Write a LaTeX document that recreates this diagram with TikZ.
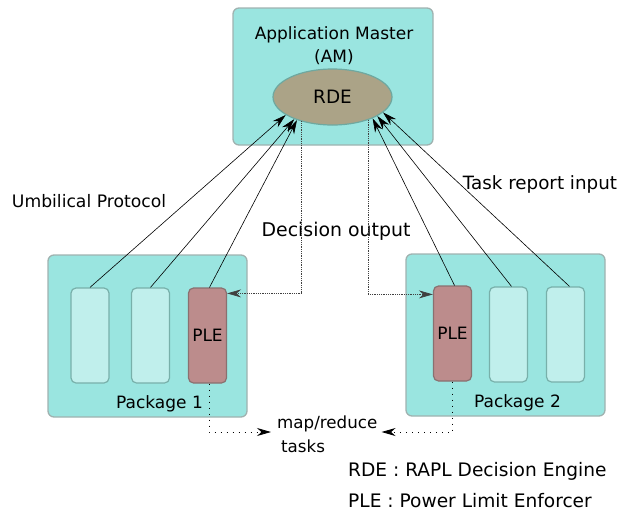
\documentclass[tikz,border=0pt]{standalone}
\usepackage{fontspec}
\setmainfont{DejaVu Sans}
\usetikzlibrary{shapes.geometric,arrows.meta}

\definecolor{pkgfill}{RGB}{154,229,224}
\definecolor{pkgline}{RGB}{160,178,176}
\definecolor{taskfill}{RGB}{192,239,236}
\definecolor{taskline}{RGB}{120,176,170}
\definecolor{plefill}{RGB}{188,140,140}
\definecolor{pleline}{RGB}{138,112,112}
\definecolor{rdefill}{RGB}{171,163,135}
\definecolor{rdeline}{RGB}{110,168,160}

\tikzset{
  pkg/.style={draw=pkgline, fill=pkgfill, line width=1.3pt, rounded corners=6pt, inner sep=0pt},
  slot/.style={draw=taskline, fill=taskfill, line width=1.2pt, rounded corners=5pt,
               minimum width=38pt, minimum height=95pt, inner sep=0pt},
  ple/.style={slot, draw=pleline, fill=plefill, font=\fontsize{17}{20}\selectfont},
  lbl/.style={font=\fontsize{17}{20}\selectfont, inner sep=0pt},
  tip/.style={-{Stealth[length=14pt,width=8pt,inset=4.5pt]}},
  report/.style={tip, line width=0.6pt},
  decision/.style={tip, line width=0.7pt, draw=black!75, dash pattern=on 1pt off 0.8pt},
  handoff/.style={tip, line width=0.8pt, dash pattern=on 1pt off 5pt},
}

\begin{document}
\begin{tikzpicture}[x=1pt,y=-1pt]
\useasboundingbox (0,0) rectangle (621,515);

% Application master with the decision engine
\node[pkg, minimum width=200pt, minimum height=137pt] (am) at (333,76.5) {};
\node[lbl] (amtitle) at (334,35) {Application Master};
\node[lbl] (amabbr) at (334,57) {(AM)};
\node[draw=rdeline, fill=rdefill, line width=1.2pt, ellipse, inner sep=0pt,
      minimum width=119pt, minimum height=56pt, font=\fontsize{18.4}{22}\selectfont]
      (rde) at (332.5,97) {RDE};

% Package 1
\node[pkg, minimum width=199pt, minimum height=162pt] (p1) at (147.5,336) {};
\node[slot] (t11) at (90,335.5) {};
\node[slot] (t12) at (150.5,335.5) {};
\node[ple] (ple1) at (207.5,335.5) {PLE};
\node[lbl] (p1lbl) at (159.5,404) {Package 1};

% Package 2
\node[pkg, minimum width=199pt, minimum height=162pt] (p2) at (505.5,335) {};
\node[ple] (ple2) at (452.5,333.5) {PLE};
\node[slot] (t21) at (508.5,334.5) {};
\node[slot] (t22) at (565.5,334.5) {};
\node[lbl] (p2lbl) at (517.5,403) {Package 2};

% Labels
\node[lbl, font=\fontsize{17.2}{20}\selectfont] (umb) at (89,201) {Umbilical Protocol};
\node[lbl, font=\fontsize{18.9}{22}\selectfont] (dec) at (336,231) {Decision output};
\node[lbl, font=\fontsize{18.3}{22}\selectfont] (rep) at (540,184) {Task report input};
\node[lbl, anchor=west, font=\fontsize{16.7}{20}\selectfont] (mr) at (277,424) {map/reduce};
\node[lbl, anchor=west, font=\fontsize{16.7}{20}\selectfont] (tk) at (281,446) {tasks};
\node[lbl, anchor=west, font=\fontsize{18.6}{22}\selectfont] (lg1) at (348,471) {RDE : RAPL Decision Engine};
\node[lbl, anchor=west, font=\fontsize{18.6}{22}\selectfont] (lg2) at (348,501) {PLE : Power Limit Enforcer};

% Task reports up to the engine
\draw[report] (t11.north) -- (rde.201.6);
\draw[report] (t12.north) -- (rde.210);
\draw[report] ([xshift=2pt]ple1.north) -- (rde.213.5);
\draw[report] ([xshift=2pt]ple2.north) -- (rde.332);
\draw[report] ([xshift=3pt]t21.north) -- (rde.337.3);
\draw[report] ([xshift=4pt]t22.north) -- (rde.343.6);

% Decisions down to the enforcers
\draw[decision] (rde.218.2) |- ([yshift=-6pt]ple1.north east);
\draw[decision] (rde.327.6) |- ([yshift=-9pt]ple2.north west);

% Enforcers acting on map/reduce tasks
\draw[handoff] ([xshift=1.5pt]ple1.south) |- ([xshift=-6pt,yshift=-8pt]mr.west);
\draw[handoff] (ple2.south) |- ([xshift=4pt,yshift=-8pt]mr.east);
\end{tikzpicture}
\end{document}
